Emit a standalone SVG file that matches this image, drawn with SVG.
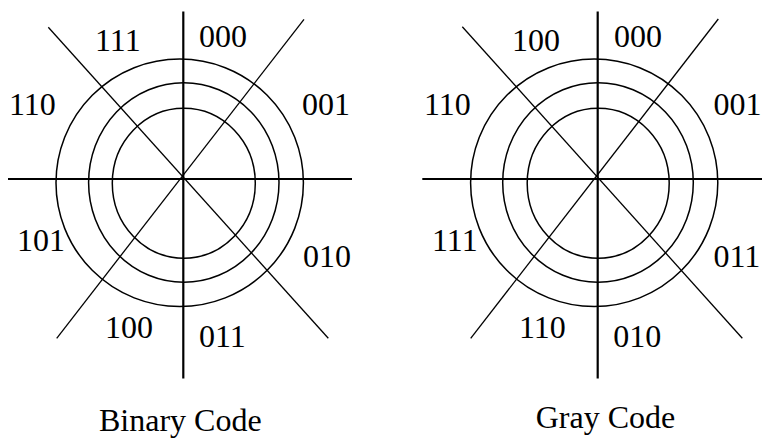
<svg xmlns="http://www.w3.org/2000/svg" width="762" height="439" viewBox="0 0 762 439">
<style>
.axis{stroke:#000;stroke-width:2.2;fill:none}
.diag{stroke:#000;stroke-width:1.3;fill:none}
.ring{stroke:#000;stroke-width:1.5;fill:none}
text{font-family:"Liberation Serif","Times New Roman",serif;font-size:32px;fill:#000}
.cap{font-size:32px}
</style>
<rect width="762" height="439" fill="#fff"/>
<g id="binary-wheel">
<ellipse class="ring" cx="179.7" cy="182.8" rx="123.7" ry="123.8"/>
<ellipse class="ring" cx="183.8" cy="182.5" rx="95.2" ry="99.8"/>
<ellipse class="ring" cx="183.8" cy="183.2" rx="71.5" ry="75"/>
</g>
<g id="gray-wheel">
<ellipse class="ring" cx="594.2" cy="182.8" rx="123.6" ry="123.8"/>
<ellipse class="ring" cx="598" cy="182.5" rx="95.3" ry="99.8"/>
<ellipse class="ring" cx="598.2" cy="183.2" rx="71" ry="75"/>
</g>
<g id="connectors">
<line class="axis" x1="183.3" y1="11.5" x2="183.3" y2="378.5"/>
<line class="axis" x1="8" y1="179" x2="352" y2="179"/>
<line class="diag" x1="48.3" y1="27.3" x2="328.3" y2="338.3"/>
<line class="diag" x1="304" y1="19.3" x2="56.7" y2="338.3"/>
<line class="axis" x1="597.7" y1="11.5" x2="597.7" y2="378.5"/>
<line class="axis" x1="422.3" y1="179" x2="766" y2="179"/>
<line class="diag" x1="462.3" y1="26.7" x2="742.3" y2="338.3"/>
<line class="diag" x1="718.3" y1="19" x2="470.7" y2="338.3"/>
</g>
<g id="binary-labels">
<text x="95" y="50.7">111</text>
<text x="199" y="46.7">000</text>
<text x="9" y="115">110</text>
<text x="302" y="115">001</text>
<text x="17" y="250.7">101</text>
<text x="303" y="266.7">010</text>
<text x="105" y="338.3">100</text>
<text x="199" y="346.7">011</text>
<text class="cap" x="99" y="430.5">Binary Code</text>
</g>
<g id="gray-labels">
<text x="512" y="50.7">100</text>
<text x="614" y="46.7">000</text>
<text x="424" y="115">110</text>
<text x="713.5" y="115">001</text>
<text x="432" y="250.7">111</text>
<text x="713.5" y="266.7">011</text>
<text x="519" y="338.3">110</text>
<text x="613.3" y="346.7">010</text>
<text class="cap" x="535.7" y="428">Gray Code</text>
</g>
</svg>
